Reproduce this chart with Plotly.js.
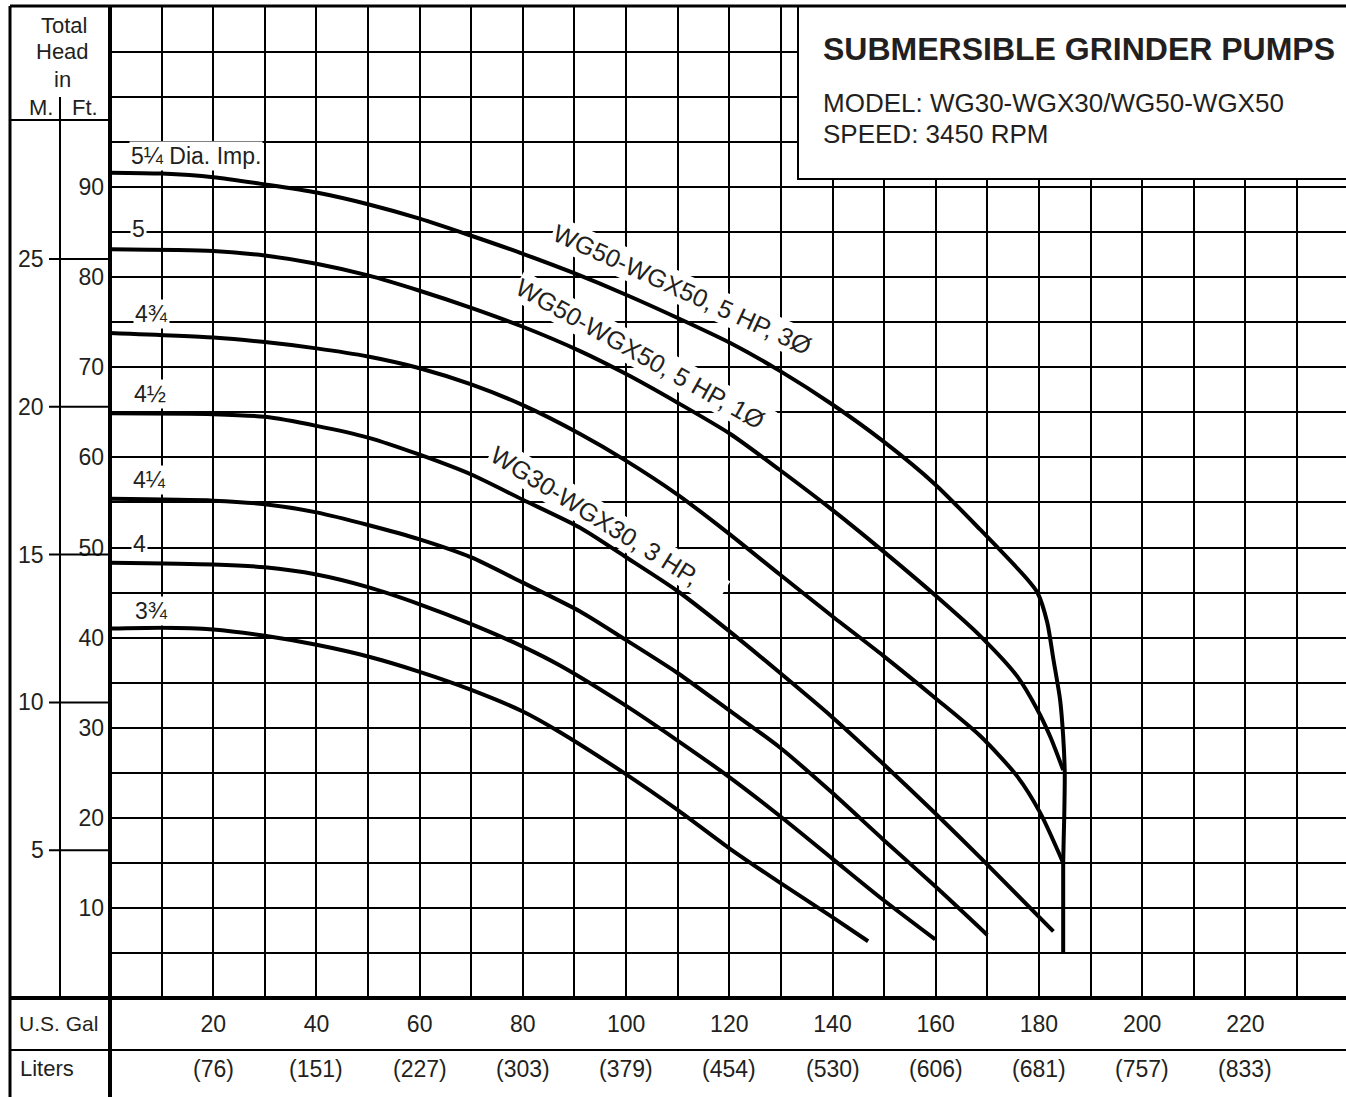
<!DOCTYPE html>
<html><head><meta charset="utf-8">
<script src="https://cdn.plot.ly/plotly-3.0.1.min.js"></script>
<style>html,body{margin:0;padding:0;background:#fff;}#chart{width:1346px;height:1097px;}</style>
</head><body><div id="chart"></div>
<script>
// ---- data (flow in U.S. gal/min, total head in feet) ----
const gal525 = [0, 10, 20, 30, 40, 50, 60, 70, 80, 89.7, 100.2, 109.9, 120.2, 129.8, 139.9, 149.8, 159.9, 168.6, 177.7, 179.7, 181.6, 182.8, 184.1, 184.7, 185.0, 184.9, 184.7, 184.7];
const ft525  = [91.6, 91.5, 91.1, 90.3, 89.4, 88.1, 86.5, 84.6, 82.6, 80.5, 78.0, 75.5, 72.7, 69.6, 65.9, 61.8, 57.0, 52.0, 46.5, 45.0, 41.7, 37.6, 33.1, 29.0, 25.0, 20.0, 15.0, 5.0];
const gal500 = [0, 20, 30, 40, 50, 60, 70, 80, 91.1, 100.2, 109.9, 120.2, 129.8, 139.9, 149.8, 159.9, 168.6, 175.8, 179.7, 182.2, 184.7];
const ft500  = [83.1, 82.9, 82.4, 81.5, 80.2, 78.5, 76.6, 74.5, 71.8, 69.2, 66.1, 62.6, 58.6, 54.2, 49.6, 44.7, 40.2, 35.7, 32.0, 29.0, 25.3];
const gal475 = [0, 20, 30, 40, 50, 60, 70, 80, 91.1, 99.8, 109.9, 119.8, 129.8, 139.9, 149.8, 159.9, 168.6, 175.8, 180.2, 184.7];
const ft475  = [73.8, 73.3, 72.8, 72.1, 71.2, 69.9, 68.1, 65.8, 62.6, 59.7, 55.9, 51.6, 47.0, 42.4, 38.0, 33.3, 29.1, 24.6, 20.6, 15.0];
const gal450 = [0, 20, 30, 40, 50, 60, 70, 80, 91.1, 99.8, 109.9, 119.8, 129.8, 139.9, 149.8, 159.9, 168.6, 182.8];
const ft450  = [64.9, 64.8, 64.5, 63.5, 62.2, 60.3, 58.1, 55.3, 52.2, 49.0, 45.2, 40.8, 36.1, 31.2, 26.0, 20.5, 15.6, 7.4];
const gal425 = [0, 20, 30, 40, 50, 60, 70, 80, 91.1, 99.8, 109.9, 119.8, 129.8, 139.9, 149.8, 159.9, 170.0];
const ft425  = [55.4, 55.2, 54.8, 53.9, 52.5, 50.9, 48.9, 46.1, 42.9, 39.8, 36.1, 32.0, 27.8, 22.8, 17.6, 12.4, 7.0];
const gal400 = [0, 20, 30, 40, 50, 60, 70, 80, 87.2, 99.8, 109.9, 119.8, 129.8, 139.9, 149.8, 159.9];
const ft400  = [48.3, 48.1, 47.8, 47.0, 45.6, 43.7, 41.5, 39.0, 36.9, 32.5, 28.6, 24.6, 20.2, 15.5, 10.9, 6.5];
const gal375 = [0, 10, 20, 30, 40, 50, 60, 70, 80, 87.2, 99.8, 109.9, 119.8, 129.8, 139.9, 146.9];
const ft375  = [41.0, 41.1, 40.9, 40.2, 39.2, 37.9, 36.2, 34.2, 31.8, 29.5, 24.9, 20.9, 16.7, 12.8, 9.0, 6.3];

const impellerLabels = ['5¼ Dia. Imp.', '5', '4¾', '4½', '4¼', '4', '3¾'];
const modelLabels = ['WG50-WGX50, 5 HP, 3Ø\u00a0', 'WG50-WGX50, 5 HP, 1Ø\u00a0', 'WG30-WGX30, 3 HP,\u00a0\u00a0\u00a0\u00a0'];

const galGrid = [10,20,30,40,50,60,70,80,90,100,110,120,130,140,150,160,170,180,190,200,210,220,230];
const galText = ['','20','','40','','60','','80','','100','','120','','140','','160','','180','','200','','220',''];
const ftGrid  = [5,10,15,20,25,30,35,40,45,50,55,60,65,70,75,80,85,90,95,100,105];
const ftText  = ['','10','','20','','30','','40','','50','','60','','70','','80','','90','','',''];
const meterTicks = [5, 10, 15, 20, 25];
const literAt = [20, 40, 60, 80, 100, 120, 140, 160, 180, 200, 220];
const literText = ['(76)','(151)','(227)','(303)','(379)','(454)','(530)','(606)','(681)','(757)','(833)'];

const titleText = 'SUBMERSIBLE GRINDER PUMPS';
const modelText = 'MODEL: WG30-WGX30/WG50-WGX50';
const speedText = 'SPEED: 3450 RPM';

// ---- layout helpers ----
const W = 1346, H = 1097;
const PX = v => v / W, PY = v => 1 - v / H;
const INK = '#231f20';
const FONT = 'Liberation Sans, Arial, Helvetica, sans-serif';
const FT_PER_M = 3.2808;

const curves = [[gal525, ft525],[gal500, ft500],[gal475, ft475],[gal450, ft450],[gal425, ft425],[gal400, ft400],[gal375, ft375]];
const traces = curves.map(c => ({
  x: c[0], y: c[1], type: 'scatter', mode: 'lines',
  line: {color: '#000', width: 4, shape: 'spline', smoothing: 0.7},
  hoverinfo: 'skip', showlegend: false
}));

function lineP(x0, y0, x1, y1, w) {
  return {type: 'line', xref: 'paper', yref: 'paper', x0: PX(x0), x1: PX(x1), y0: PY(y0), y1: PY(y1), line: {color: '#000', width: w}};
}
const shapes = [
  {type: 'rect', xref: 'paper', yref: 'paper', x0: PX(798), x1: PX(1360), y0: PY(179), y1: PY(6), fillcolor: '#fff', line: {color: '#000', width: 2}},
  lineP(10, 6, 1346, 6, 3),
  lineP(10, 6, 10, 1097, 3),
  lineP(110, 6, 110, 1097, 4),
  lineP(10, 998, 1346, 998, 4),
  lineP(10, 1050, 1346, 1050, 2),
  lineP(10, 120, 110, 120, 2),
  lineP(60, 97, 60, 998, 2)
];
meterTicks.forEach(m => shapes.push({type: 'line', xref: 'paper', yref: 'y', x0: PX(49), x1: PX(110), y0: m * FT_PER_M, y1: m * FT_PER_M, line: {color: '#000', width: 2}}));

function ann(text, x, y, o) {
  return Object.assign({text: text, x: x, y: y, xref: 'paper', yref: 'paper', showarrow: false,
    xanchor: 'center', yanchor: 'middle', font: {family: FONT, size: 23, color: INK}}, o || {});
}
const annotations = [];
// header of the head axis
annotations.push(ann('Total', PX(64), PY(26), {font: {family: FONT, size: 22, color: INK}}));
annotations.push(ann('Head', PX(62.5), PY(52), {font: {family: FONT, size: 22, color: INK}}));
annotations.push(ann('in', PX(62.5), PY(79), {font: {family: FONT, size: 22, color: INK}}));
annotations.push(ann('M.', PX(41), PY(107), {font: {family: FONT, size: 22, color: INK}}));
annotations.push(ann('Ft.', PX(85), PY(107), {font: {family: FONT, size: 22, color: INK}}));
// meter labels
meterTicks.forEach(m => annotations.push(ann(String(m), PX(46), m * FT_PER_M, {yref: 'y', xanchor: 'right'})));
// flow axis row labels
annotations.push(ann('U.S. Gal', PX(17), PY(1023), {xanchor: 'left', font: {family: FONT, size: 21, color: INK}}));
annotations.push(ann('Liters', PX(18), PY(1068), {xanchor: 'left', font: {family: FONT, size: 22, color: INK}}));
literAt.forEach((g, i) => annotations.push(ann(literText[i], g, PY(1069), {xref: 'x'})));
// title box
annotations.push(ann('<b>' + titleText + '</b>', PX(821), PY(49), {xanchor: 'left', font: {family: FONT, size: 32, color: INK}}));
annotations.push(ann(modelText, PX(821), PY(103), {xanchor: 'left', font: {family: FONT, size: 26, color: INK}}));
annotations.push(ann(speedText, PX(821), PY(134), {xanchor: 'left', font: {family: FONT, size: 26, color: INK}}));
// impeller diameter labels (data coords)
const impPos = [[16.7, 93.5], [5.6, 85.3], [8.1, 75.9], [7.75, 67.0], [7.56, 57.5], [5.8, 50.4], [8.1, 43.0]];
impellerLabels.forEach((t, i) => annotations.push(ann(t, impPos[i][0], impPos[i][1], {xref: 'x', yref: 'y', bgcolor: '#fff', borderpad: 1})));
// model labels along curves
const modelPos = [[111.6, 78.5, 24.5], [103.3, 71.4, 29.3], [96.3, 52.7, 31.9]];
modelLabels.forEach((t, i) => annotations.push(ann(t, modelPos[i][0], modelPos[i][1], {xref: 'x', yref: 'y', textangle: modelPos[i][2], bgcolor: '#fff', borderpad: 1, font: {family: FONT, size: 25, color: INK}})));

const layout = {
  width: W, height: H, margin: {l: 0, r: 0, t: 0, b: 0, pad: 0},
  paper_bgcolor: '#fff', plot_bgcolor: '#fff', showlegend: false,
  xaxis: {domain: [PX(110), 1], range: [0, 239.5], tickmode: 'array', tickvals: galGrid, ticktext: galText,
    showgrid: true, gridcolor: '#000', gridwidth: 2, zeroline: false, showline: false, ticks: '',
    ticklabelstandoff: 10, tickfont: {family: FONT, size: 23, color: INK}},
  yaxis: {domain: [PY(998), PY(6)], range: [0, 110.1], tickmode: 'array', tickvals: ftGrid, ticktext: ftText,
    showgrid: true, gridcolor: '#000', gridwidth: 2, zeroline: false, showline: false, ticks: '',
    ticklabelstandoff: 5, tickfont: {family: FONT, size: 23, color: INK}},
  shapes: shapes, annotations: annotations
};
Plotly.newPlot('chart', traces, layout, {staticPlot: true, displayModeBar: false});
</script></body></html>
